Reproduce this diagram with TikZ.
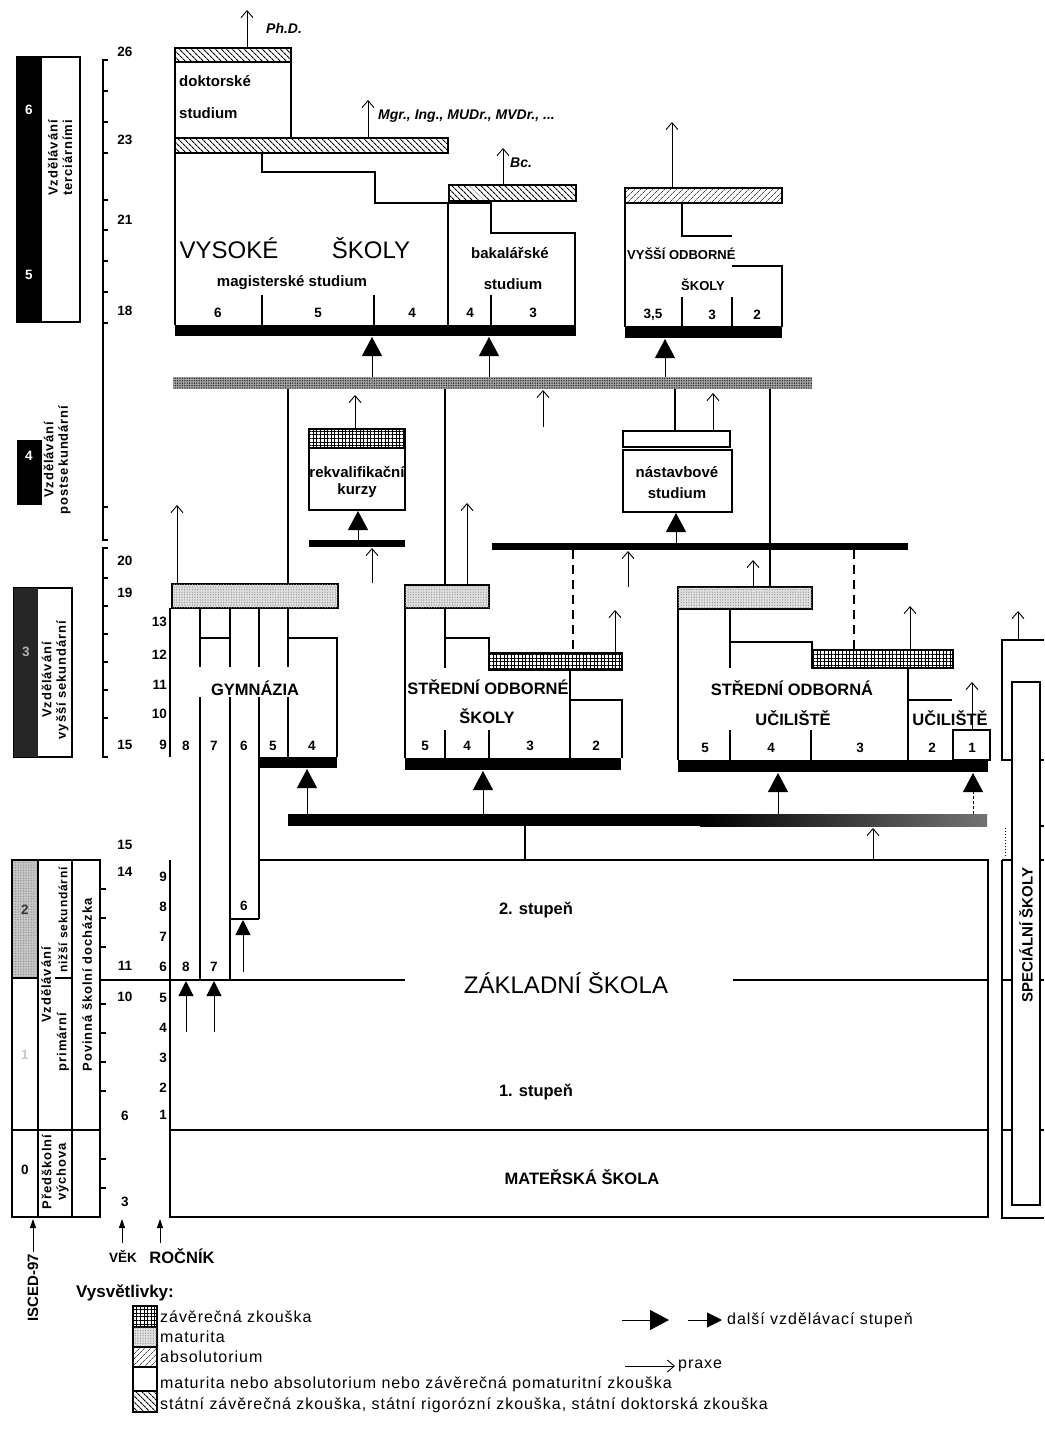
\documentclass[tikz,border=0pt]{standalone}
\usepackage{fontspec}
\setmainfont{Liberation Sans}
\newfontfamily\rozt[LetterSpace=7]{Liberation Sans}
\newfontfamily\legf[LetterSpace=6]{Liberation Sans}
\usetikzlibrary{arrows.meta, patterns.meta}
\tikzset{
  ram/.style={draw, line width=1.3pt},
  praxe/.style={line width=0.9pt, -{Straight Barb[length=7pt,width=12pt,line width=0.9pt]}},
  dalsi/.style={line width=0.9pt, -{Triangle[length=19pt,width=20pt]}},
  mensi/.style={line width=0.9pt, -{Triangle[length=15pt,width=15pt]}},
  osa/.style={line width=0.9pt, -{Triangle[length=9pt,width=6pt]}},
  statni/.style={ram, pattern={Lines[angle=-45,distance=4pt,line width=1.1pt]}},
  absol/.style={ram, pattern={Lines[angle=45,distance=4pt,line width=0.8pt]}, pattern color=black!70},
  zaverecna/.style={ram, pattern={Hatch[angle=0,distance=3.6pt,line width=0.7pt]}},
  maturita/.style={ram, fill=gray!25, postaction={pattern={Dots[distance=2.6pt,radius=0.6pt]}, pattern color=gray!90}},
  cislo/.style={font=\bfseries\fontsize{13.5}{15}\selectfont, inner sep=0pt},
  popis/.style={font=\bfseries\fontsize{15}{17}\selectfont, inner sep=0pt},
  nazev/.style={font=\bfseries\fontsize{16.5}{18}\selectfont, inner sep=0pt},
  titul/.style={font=\bfseries\itshape\fontsize{14}{16}\selectfont, anchor=west, inner sep=0pt},
  isced/.style={font=\rozt\bfseries\fontsize{13}{14.5}\selectfont, rotate=90, align=center, inner sep=0pt},
  legenda/.style={font=\legf\fontsize{16}{18}\selectfont, anchor=west, inner sep=0pt},
}
\begin{document}
\begin{tikzpicture}[x=1pt, y=-1pt]
\useasboundingbox (0,0) rectangle (1044,1432);

% ISCED-97
\draw[ram] (17,57) rectangle (80,322);
\fill (17,57) rectangle (42,322);
\node[cislo, white] (i6) at (29,110) {6};
\node[cislo, white] (i5) at (29,275) {5};
\node[isced] (terc) at (60,158) {Vzdělávání\\terciárními};
\fill (17,440) rectangle (42,505);
\node[cislo, white] (i4) at (29,456) {4};
\node[isced] (post) at (57,460) {Vzdělávání\\postsekundární};
\draw[ram] (14,588) rectangle (72,757);
\fill[black!85] (14,588) rectangle (38,757);
\node[cislo, gray!60] (i3) at (26,652) {3};
\node[isced] (vyssi) at (55,680) {Vzdělávání\\vyšší sekundární};
\fill[gray!45, postaction={pattern={Dots[distance=2.6pt,radius=0.6pt]}, pattern color=gray!95}] (12,860) rectangle (38,978);
\draw[ram] (12,860) rectangle (100,1217);
\draw[ram] (38,860) -- (38,1217) (72,860) -- (72,1217);
\draw[ram] (12,978) -- (38,978) (55,978) -- (72,978) (12,1130) -- (100,1130);
\node[cislo, black!80] (i2) at (25,910) {2};
\node[cislo, gray!45] (i1) at (25,1055) {1};
\node[cislo] (i0) at (25,1170) {0};
\node[isced] (vzd) at (46,985) {Vzdělávání};
\node[isced, font=\rozt\bfseries\fontsize{12}{14}\selectfont] (niz) at (63,920) {nižší sekundární};
\node[isced] (prim) at (63,1042) {primární};
\node[isced] (pov) at (87,985) {Povinná školní docházka};
\node[isced] (pred) at (55,1172) {Předškolní\\výchova};

% vek a rocnik
\draw[ram] (108,60) -- (103,60) -- (103,540) -- (108,540);
\foreach \y in {91,122,153,200,230,261,292,323,507} \draw[ram] (103,\y) -- (108,\y);
\draw[ram] (108,548) -- (103,548) -- (103,757) -- (108,757);
\foreach \y in {578,606,634,662,690,718} \draw[ram] (103,\y) -- (108,\y);
\foreach \y in {889,918,947,1004,1033,1062,1091,1159,1188} \draw[ram] (100,\y) -- (106,\y);
\foreach \v/\y in {26/52,23/140,21/220,18/311,20/561,19/593,15/745,15/845,14/872,11/966,10/997,6/1116,3/1202}
  \node[cislo] (vek\y) at (125,\y) {\v};
\foreach \r/\y in {13/622,12/655,11/685,10/714,9/745,9/877,8/907,7/937,6/967,5/998,4/1028,3/1058,2/1088,1/1115}
  \node[cislo, anchor=east] (roc\y) at (167,\y) {\r};
\draw[osa] (33,1252) -- (33,1219);
\draw[osa] (122,1243) -- (122,1219);
\draw[osa] (160,1243) -- (160,1219);
\node[popis, rotate=90] (isc) at (33,1288) {ISCED-97};
\node[cislo] (vek) at (123,1256) {VĚK};
\node[nazev] (rocnik) at (182,1256) {ROČNÍK};

% vysoke skoly
\draw[statni] (175,48) rectangle (291,62);
\draw[ram] (175,62) -- (175,138) (291,62) -- (291,138);
\draw[statni] (175,138) rectangle (448,153);
\draw[ram] (175,153) -- (175,325);
\draw[ram] (262,153) -- (262,172) -- (375,172) -- (375,203) -- (491,203) -- (491,233) -- (575,233) -- (575,325);
\draw[ram] (448,203) -- (448,325);
\draw[statni] (449,185) rectangle (576,201);
\foreach \x in {262,374,491} \draw[ram] (\x,295) -- (\x,325);
\fill (175,325) rectangle (576,336);
\node[font=\fontsize{24}{26}\selectfont, inner sep=0pt] (vys) at (229,248) {VYSOKÉ};
\node[font=\fontsize{24}{26}\selectfont, inner sep=0pt] (sko) at (371,248) {ŠKOLY};
\node[popis] (mag) at (292,283) {magisterské studium};
\node[popis] (bak) at (510,253) {bakalářské};
\node[popis] (bak2) at (513,284) {studium};
\node[popis, anchor=west] (dok) at (179,81) {doktorské};
\node[popis, anchor=west] (dok2) at (179,113) {studium};
\foreach \c/\x in {6/218,5/318,4/412,4/470,3/533} \node[cislo] (vs\x) at (\x,313) {\c};
\draw[praxe] (247,48) -- (247,10);
\node[titul] (phd) at (266,28) {Ph.D.};
\draw[praxe] (368,138) -- (368,100);
\node[titul] (mgr) at (378,116) {Mgr., Ing., MUDr., MVDr., ...};
\draw[praxe] (503,185) -- (503,148);
\node[titul] (bc) at (510,163) {Bc.};

% vyssi odborne skoly
\draw[absol] (625,188) rectangle (782,203);
\draw[ram] (625,203) -- (625,327) (682,203) -- (682,236) -- (732,236) (732,266) -- (782,266) -- (782,327);
\foreach \x in {682,732} \draw[ram] (\x,297) -- (\x,327);
\fill (625,326) rectangle (782,338);
\node[font=\bfseries\fontsize{13}{15}\selectfont, anchor=west, inner sep=0pt] (vos) at (627,254) {VYŠŠÍ ODBORNÉ};
\node[font=\bfseries\fontsize{13}{15}\selectfont, inner sep=0pt] (vos2) at (703,285) {ŠKOLY};
\node[cislo] (vo1) at (653,315) {3,5};
\node[cislo] (vo2) at (712,315) {3};
\node[cislo] (vo3) at (757,315) {2};
\draw[praxe] (672,188) -- (672,122);

% maturita a pomaturitni studium
\fill[gray!70, postaction={pattern={Dots[distance=2.4pt,radius=0.75pt]}, pattern color=black!85}] (173,377) rectangle (812,389);
\draw[dalsi] (372,377) -- (372,337);
\draw[dalsi] (489,377) -- (489,337);
\draw[dalsi] (665,377) -- (665,339);
\draw[ram] (288,389) -- (288,584) (445,389) -- (445,585) (675,389) -- (675,431) (770,389) -- (770,587);
\draw[praxe] (543,427) -- (543,390);
\draw[zaverecna] (309,429) rectangle (405,448);
\draw[ram] (309,448) rectangle (405,510);
\node[popis] (rek) at (357,472) {rekvalifikační};
\node[popis] (rek2) at (357,491) {kurzy};
\draw[praxe] (355,429) -- (355,395);
\fill (309,540) rectangle (405,547);
\draw[dalsi] (358,540) -- (358,511);
\draw[praxe] (372,583) -- (372,548);
\draw[ram] (623,431) rectangle (730,447);
\draw[ram] (623,450) rectangle (732,512);
\node[popis] (nas) at (677,472) {nástavbové};
\node[popis] (nas2) at (677,493) {studium};
\draw[praxe] (713,431) -- (713,393);
\fill (492,543) rectangle (908,550);
\draw[dalsi] (676,543) -- (676,513);
\draw[praxe] (628,587) -- (628,551);
\draw[ram, dash pattern=on 9pt off 6pt] (573,550) -- (573,653) (854,550) -- (854,650);

% gymnazia
\draw[maturita] (172,584) rectangle (338,608);
\draw[ram] (170,608) -- (170,757);
\draw[ram] (200,608) -- (200,667) (230,608) -- (230,667) (259,608) -- (259,667) (288,608) -- (288,667);
\draw[ram] (200,697) -- (200,980) (230,697) -- (230,980) (259,697) -- (259,919) (288,697) -- (288,757);
\draw[ram] (200,638) -- (230,638);
\draw[ram] (288,638) -- (337,638) -- (337,757);
\draw[ram] (230,919) -- (259,919);
\fill (259,757) rectangle (337,768);
\node[nazev] (gym) at (255,688) {GYMNÁZIA};
\foreach \c/\x in {8/186,7/214,6/244,5/273,4/312} \node[cislo] (gy\x) at (\x,746) {\c};
\draw[praxe] (177,584) -- (177,505);
\draw[dalsi] (307,814) -- (307,769);

% stredni odborne skoly
\draw[maturita] (405,585) rectangle (489,608);
\draw[ram] (405,608) -- (405,758) (445,608) -- (445,668);
\draw[ram] (445,638) -- (489,638) -- (489,653);
\draw[zaverecna] (489,653) rectangle (622,670);
\draw[ram] (570,670) -- (570,758) (570,700) -- (622,700) -- (622,758);
\foreach \x in {445,489} \draw[ram] (\x,730) -- (\x,758);
\fill (405,758) rectangle (621,770);
\node[nazev] (sos) at (488,687) {STŘEDNÍ ODBORNÉ};
\node[nazev] (sos2) at (487,716) {ŠKOLY};
\foreach \c/\x in {5/425,4/467,3/530,2/596} \node[cislo] (so\x) at (\x,746) {\c};
\draw[praxe] (467,585) -- (467,503);
\draw[praxe] (615,653) -- (615,610);
\draw[dalsi] (483,814) -- (483,771);

% stredni odborna uciliste
\draw[maturita] (678,587) rectangle (812,609);
\draw[ram] (678,609) -- (678,760) (730,609) -- (730,668);
\draw[ram] (730,642) -- (812,642) -- (812,650);
\draw[zaverecna] (812,650) rectangle (953,668);
\draw[ram] (908,668) -- (908,760) (908,700) -- (952,700);
\draw[ram] (953,730) rectangle (990,760);
\foreach \x in {730,811} \draw[ram] (\x,730) -- (\x,760);
\fill (678,760) rectangle (988,772);
\node[nazev] (sou) at (792,688) {STŘEDNÍ ODBORNÁ};
\node[nazev] (sou2) at (793,718) {UČILIŠTĚ};
\node[nazev] (uc) at (950,718) {UČILIŠTĚ};
\foreach \c/\x in {5/705,4/771,3/860,2/932,1/972} \node[cislo] (su\x) at (\x,748) {\c};
\draw[praxe] (753,587) -- (753,560);
\draw[praxe] (910,650) -- (910,606);
\draw[praxe] (972,730) -- (972,682);
\draw[dalsi] (778,814) -- (778,773);
\draw[line width=0.9pt, dash pattern=on 3pt off 2pt] (973,814) -- (973,792);
\draw[dalsi] (973,793) -- (973,773);

% zakladni a materska skola
\fill (288,814) rectangle (700,826);
\shade[left color=black, right color=black!55] (700,814) rectangle (987,826);
\draw[ram] (525,826) -- (525,860);
\draw[praxe] (873,860) -- (873,828);
\draw[ram] (259,860) -- (988,860) -- (988,1217) -- (170,1217) -- (170,860);
\draw[ram] (100,980) -- (405,980) (733,980) -- (988,980);
\draw[ram] (170,1130) -- (988,1130);
\node[nazev] (st2) at (536,910) {2. stupeň};
\node[font=\fontsize{24}{26}\selectfont, inner sep=0pt] (zs) at (566,983) {ZÁKLADNÍ ŠKOLA};
\node[nazev] (st1) at (536,1092) {1. stupeň};
\node[nazev] (ms) at (582,1177) {MATEŘSKÁ ŠKOLA};
\node[cislo] (z8) at (186,967) {8};
\node[cislo] (z7) at (214,967) {7};
\node[cislo] (z6) at (244,906) {6};
\draw[mensi] (186,1032) -- (186,981);
\draw[mensi] (214,1032) -- (214,981);
\draw[mensi] (243,972) -- (243,920);

% specialni skoly
\draw[ram] (1044,640) -- (1002,640) -- (1002,760) -- (1012,760);
\draw[ram] (1002,860) -- (1002,1218) -- (1044,1218);
\draw[ram] (1012,682) rectangle (1040,1205);
\draw[ram] (1040,760) -- (1044,760) (1040,826) -- (1044,826) (1002,860) -- (1012,860) (1040,860) -- (1044,860)
  (1002,980) -- (1012,980) (1040,980) -- (1044,980) (1002,1130) -- (1012,1130) (1040,1130) -- (1044,1130);
\draw[line width=1pt, dotted] (1005,828) -- (1005,858);
\node[popis, rotate=90] (spec) at (1026,935) {SPECIÁLNÍ ŠKOLY};
\draw[praxe] (1018,640) -- (1018,611);

% vysvetlivky
\node[font=\bfseries\fontsize{17}{19}\selectfont, anchor=west, inner sep=0pt] (vysv) at (76,1293) {Vysvětlivky:};
\draw[zaverecna] (133,1306) rectangle (157,1327);
\draw[maturita] (133,1327) rectangle (157,1347);
\draw[absol] (133,1347) rectangle (157,1367);
\draw[ram] (133,1367) rectangle (157,1391);
\draw[statni] (133,1391) rectangle (157,1412);
\node[legenda] (l1) at (160,1317) {závěrečná zkouška};
\node[legenda] (l2) at (160,1337) {maturita};
\node[legenda] (l3) at (160,1357) {absolutorium};
\node[legenda] (l4) at (160,1384) {maturita nebo absolutorium nebo závěrečná pomaturitní zkouška};
\node[legenda] (l5) at (160,1405) {státní závěrečná zkouška, státní rigorózní zkouška, státní doktorská zkouška};
\draw[dalsi] (622,1320) -- (669,1320);
\draw[mensi] (688,1320) -- (722,1320);
\node[legenda] (l6) at (727,1320) {další vzdělávací stupeň};
\draw[praxe] (625,1366) -- (675,1366);
\node[legenda] (l7) at (678,1366) {praxe};
\end{tikzpicture}
\end{document}
